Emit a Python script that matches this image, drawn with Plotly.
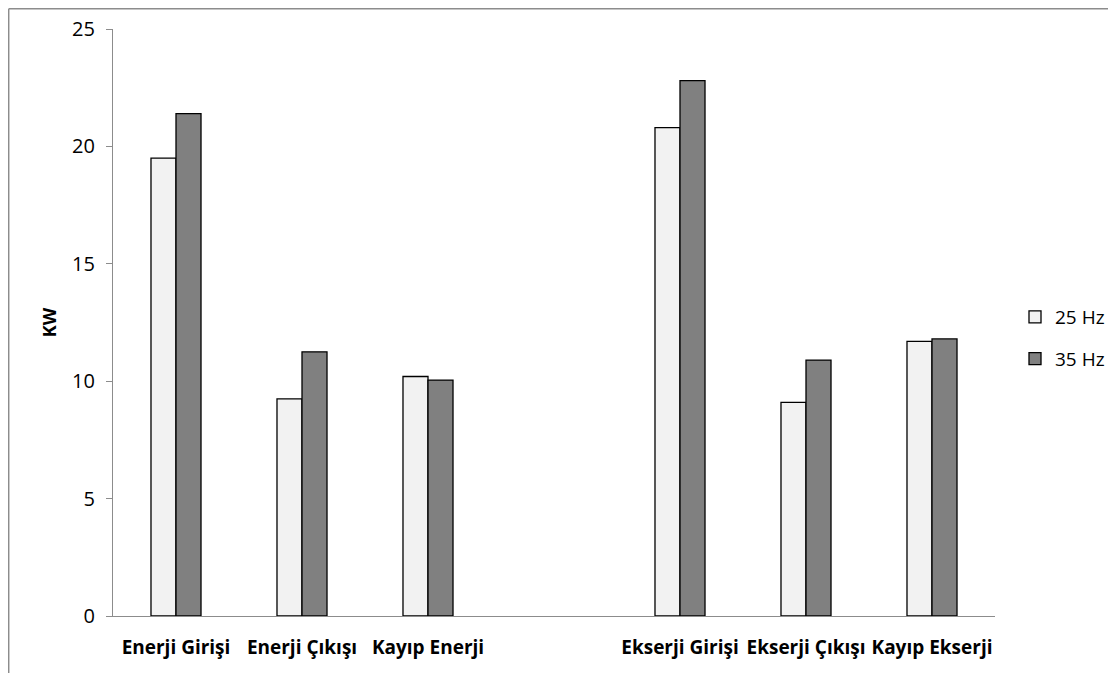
import plotly.graph_objects as go

categories = ["Enerji Girişi", "Enerji Çıkışı", "Kayıp Enerji", " ",
              "Ekserji Girişi", "Ekserji Çıkışı", "Kayıp Ekserji"]
hz25 = [19.5, 9.25, 10.2, None, 20.8, 9.1, 11.7]
hz35 = [21.4, 11.25, 10.05, None, 22.8, 10.9, 11.8]
series_names = ["25 Hz", "35 Hz"]
y_ticks = [0, 5, 10, 15, 20, 25]

FONT = "Open Sans"
OFF = 8  # page body margin
W, H = 1116 - OFF, 673 - OFF
# plot area in page pixels: x 113..995, y 29..616
L, T = 113 - OFF, 29 - OFF
R, B = W - (995 - OFF), H - (616 - OFF)
pw, ph = W - L - R, H - T - B


def px(x):
    return (x - OFF - L) / pw


def py(y):
    return 1 - (y - OFF - T) / ph


fig = go.Figure()
fig.add_trace(go.Bar(x=categories, y=hz25, name=series_names[0],
                     marker=dict(color="#F2F2F2", line=dict(color="black", width=1.3)),
                     legendgroup="a"))
fig.add_trace(go.Bar(x=categories, y=hz35, name=series_names[1],
                     marker=dict(color="#808080", line=dict(color="black", width=1.3)),
                     legendgroup="b"))

shapes = [
    dict(type="line", xref="paper", yref="paper", x0=px(8.7), x1=px(1130), y0=py(8.7), y1=py(8.7),
         line=dict(color="#8C8C8C", width=1.5)),
    dict(type="line", xref="paper", yref="paper", x0=px(8.7), x1=px(8.7), y0=py(8.7), y1=py(700),
         line=dict(color="#8C8C8C", width=1.5)),
]

fig.update_layout(
    width=W, height=H,
    margin=dict(l=L, r=R, t=T, b=B, autoexpand=False),
    paper_bgcolor="white", plot_bgcolor="white",
    barmode="group", bargap=0.603, bargroupgap=0,
    font=dict(family=FONT, size=19, color="black"),
    showlegend=True,
    legend=dict(x=px(1015), xanchor="left", y=py(298), yanchor="top",
                font=dict(family=FONT, size=19), traceorder="grouped",
                tracegroupgap=14, itemwidth=30, bgcolor="rgba(0,0,0,0)"),
    xaxis=dict(categoryorder="array", categoryarray=categories,
               showline=True, linecolor="#8C8C8C", linewidth=1.3,
               ticks="", ticklabelstandoff=14,
               tickfont=dict(family=FONT, size=19, weight="bold"),
               showgrid=False, zeroline=False),
    yaxis=dict(range=[0, 25], tickvals=y_ticks, showline=True, linecolor="#8C8C8C",
               linewidth=1.3, ticks="outside", ticklen=6, tickcolor="#8C8C8C",
               ticklabelstandoff=7,
               tickfont=dict(family=FONT, size=20), showgrid=False, zeroline=False,
               title=dict(text="KW", font=dict(family=FONT, size=18, weight="bold"),
                          standoff=10)),
    shapes=shapes,
)

fig.write_html("out.html")
